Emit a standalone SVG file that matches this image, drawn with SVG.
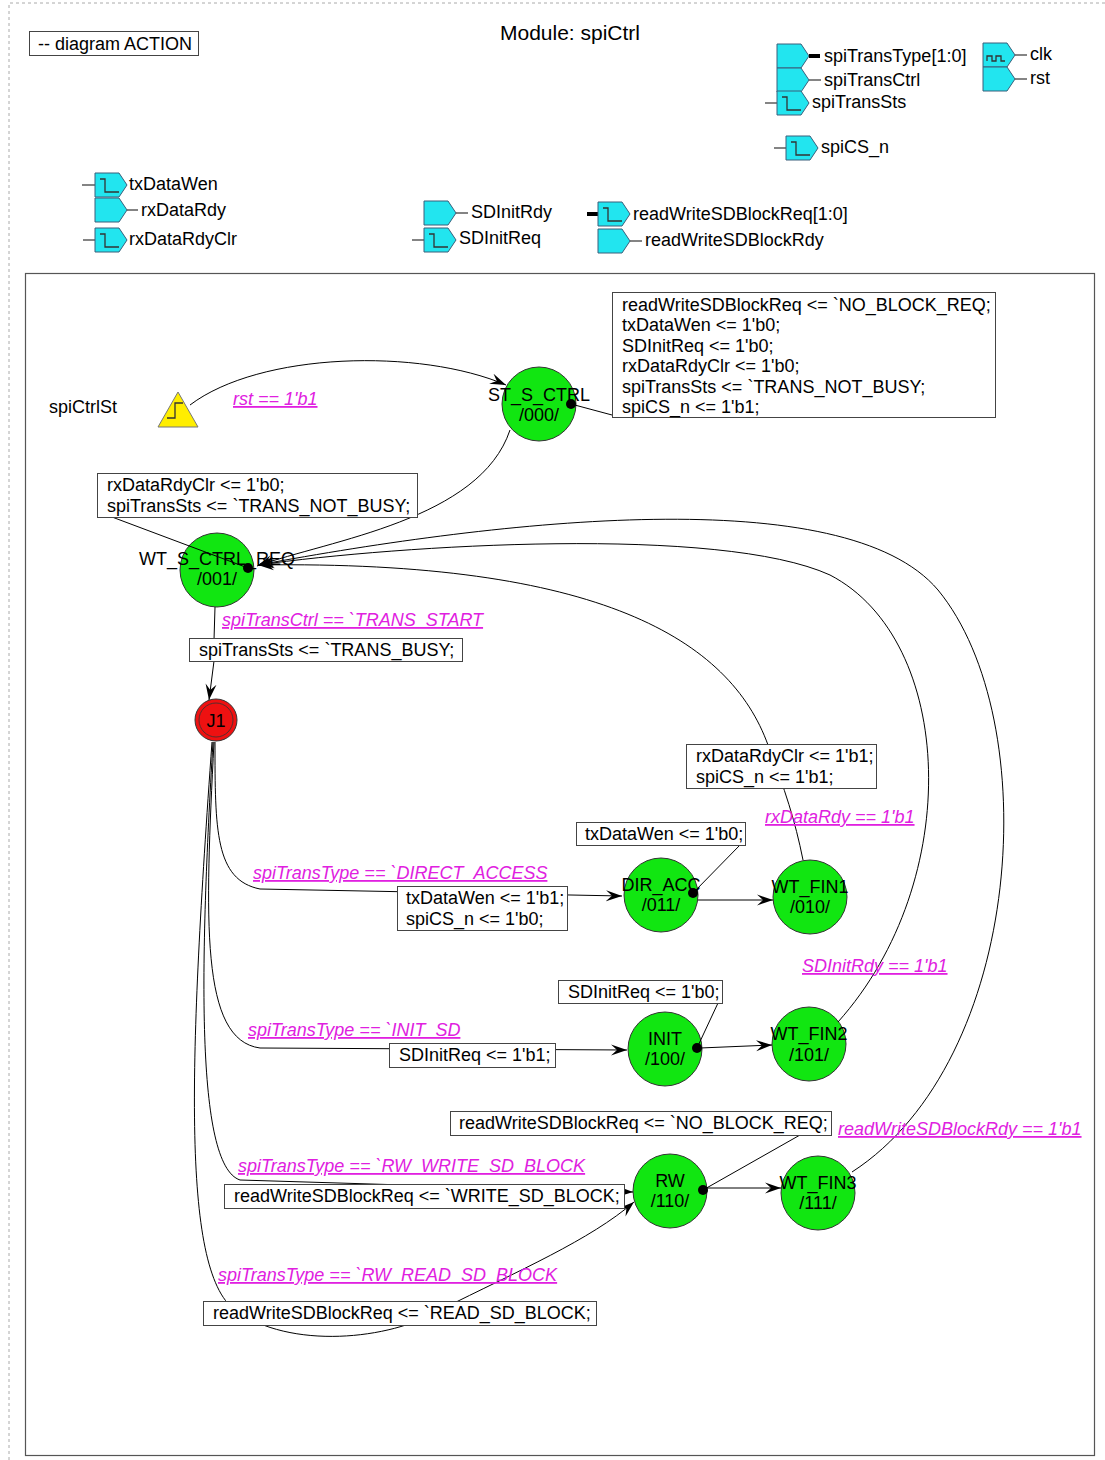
<svg xmlns="http://www.w3.org/2000/svg" width="1105" height="1460" viewBox="0 0 1105 1460">
<style>
text{font-family:"Liberation Sans",Arial,sans-serif;font-size:18px;fill:#000}
.title{font-size:21px}
.cond{fill:#e020e0;font-style:italic;text-decoration:underline}
.box{fill:#fff;stroke:#444;stroke-width:1}
.port{fill:#22e5ef;stroke:#3a5f7a;stroke-width:1}
.glyph{fill:none;stroke:#333;stroke-width:1.3}
.wire{stroke:#333;stroke-width:1.2}
.bus{stroke:#000;stroke-width:4}
.state{fill:#11e611;stroke:#333;stroke-width:1}
.st{text-anchor:middle}
.conn{fill:none;stroke:#000;stroke-width:1}
</style>
<defs>
<path id="pent" class="port" d="M0,0 H24 L32,12 L24,24 H0 Z"/>
<path id="step" class="glyph" d="M5,6 H10 V19 H24"/>
<marker id="arr" markerUnits="userSpaceOnUse" markerWidth="18" markerHeight="12" refX="16" refY="6" orient="auto">
<path d="M0,0.5 L16,6 L0,11.5 L6,6 Z" fill="#000"/>
</marker>
</defs>
<rect width="1105" height="1460" fill="#fff"/>
<path d="M9,1460 V3 H1105" fill="none" stroke="#aaa" stroke-dasharray="3,3"/>
<rect x="25.5" y="273.5" width="1069" height="1182" fill="none" stroke="#555" stroke-width="1.2"/>

<g id="title"><text x="570" y="40" text-anchor="middle" class="title">Module: spiCtrl</text></g>
<g id="diagram-action"><rect x="29.5" y="31.5" width="169" height="24" class="box"/><text x="38" y="50">-- diagram ACTION</text></g>

<!-- ports -->
<g id="port-spiTransType"><use href="#pent" x="777" y="44"/><line x1="809" y1="56" x2="820" y2="56" class="bus"/><text x="824" y="62">spiTransType[1:0]</text></g>
<g id="port-spiTransCtrl"><use href="#pent" x="777" y="68"/><line x1="809" y1="80" x2="821" y2="80" class="wire"/><text x="824" y="86">spiTransCtrl</text></g>
<g id="port-spiTransSts"><line x1="765" y1="103" x2="777" y2="103" class="wire"/><use href="#pent" x="777" y="91"/><use href="#step" x="777" y="91"/><text x="812" y="108">spiTransSts</text></g>
<g id="port-spiCS_n"><line x1="774" y1="148" x2="786" y2="148" class="wire"/><use href="#pent" x="786" y="136"/><use href="#step" x="786" y="136"/><text x="821" y="153">spiCS_n</text></g>
<g id="port-clk"><use href="#pent" x="983" y="43"/><path d="M987,61 V56 H992 V61 H996 V56 H1001 V61 H1005" class="glyph"/><line x1="1015" y1="55" x2="1027" y2="55" class="wire"/><text x="1030" y="60">clk</text></g>
<g id="port-rst"><use href="#pent" x="983" y="67"/><line x1="1015" y1="79" x2="1027" y2="79" class="wire"/><text x="1030" y="84">rst</text></g>
<g id="port-txDataWen"><line x1="82" y1="185" x2="95" y2="185" class="wire"/><use href="#pent" x="95" y="173"/><use href="#step" x="95" y="173"/><text x="129" y="190">txDataWen</text></g>
<g id="port-rxDataRdy"><use href="#pent" x="95" y="198"/><line x1="127" y1="210" x2="138" y2="210" class="wire"/><text x="141" y="216">rxDataRdy</text></g>
<g id="port-rxDataRdyClr"><line x1="83" y1="240" x2="95" y2="240" class="wire"/><use href="#pent" x="95" y="228"/><use href="#step" x="95" y="228"/><text x="129" y="245">rxDataRdyClr</text></g>
<g id="port-SDInitRdy"><use href="#pent" x="424" y="201"/><line x1="456" y1="213" x2="468" y2="213" class="wire"/><text x="471" y="218">SDInitRdy</text></g>
<g id="port-SDInitReq"><line x1="412" y1="240" x2="424" y2="240" class="wire"/><use href="#pent" x="424" y="228"/><use href="#step" x="424" y="228"/><text x="459" y="244">SDInitReq</text></g>
<g id="port-readWriteSDBlockReq"><line x1="587" y1="214" x2="598" y2="214" class="bus"/><use href="#pent" x="598" y="202"/><use href="#step" x="598" y="202"/><text x="633" y="220">readWriteSDBlockReq[1:0]</text></g>
<g id="port-readWriteSDBlockRdy"><use href="#pent" x="598" y="229"/><line x1="630" y1="241" x2="642" y2="241" class="wire"/><text x="645" y="246">readWriteSDBlockRdy</text></g>

<!-- start -->
<g id="start-spiCtrlSt"><text x="49" y="413">spiCtrlSt</text><path d="M178,392 L198,427 L158,427 Z" fill="#ffee00" stroke="#777"/><path d="M167,418 H175 V403 H183" class="glyph" stroke="#222"/></g>

<!-- states -->
<g id="state-ST_S_CTRL"><circle cx="539" cy="404" r="37" class="state"/><text x="539" y="401" class="st">ST_S_CTRL</text><text x="539" y="421" class="st">/000/</text><circle cx="571" cy="404" r="5"/></g>
<g id="state-WT_S_CTRL_REQ"><circle cx="217" cy="570" r="37" class="state"/><text x="217" y="565" class="st">WT_S_CTRL_REQ</text><text x="217" y="585" class="st">/001/</text><circle cx="248" cy="568" r="5"/></g>
<g id="state-J1"><circle cx="216" cy="720" r="21" fill="#ee1111" stroke="#333"/><circle cx="216" cy="720" r="17" fill="none" stroke="#333" stroke-width="0.8"/><text x="216" y="727" class="st">J1</text></g>
<g id="state-DIR_ACC"><circle cx="661" cy="895" r="37" class="state"/><text x="661" y="891" class="st">DIR_ACC</text><text x="661" y="911" class="st">/011/</text><circle cx="693" cy="893" r="5"/></g>
<g id="state-WT_FIN1"><circle cx="810" cy="897" r="37" class="state"/><text x="810" y="893" class="st">WT_FIN1</text><text x="810" y="913" class="st">/010/</text></g>
<g id="state-INIT"><circle cx="665" cy="1049" r="37" class="state"/><text x="665" y="1045" class="st">INIT</text><text x="665" y="1065" class="st">/100/</text><circle cx="697" cy="1048" r="5"/></g>
<g id="state-WT_FIN2"><circle cx="809" cy="1044" r="37" class="state"/><text x="809" y="1040" class="st">WT_FIN2</text><text x="809" y="1061" class="st">/101/</text></g>
<g id="state-RW"><circle cx="670" cy="1191" r="37" class="state"/><text x="670" y="1187" class="st">RW</text><text x="670" y="1207" class="st">/110/</text><circle cx="703" cy="1190" r="5"/></g>
<g id="state-WT_FIN3"><circle cx="818" cy="1193" r="37" class="state"/><text x="818" y="1189" class="st">WT_FIN3</text><text x="818" y="1209" class="st">/111/</text></g>

<!-- connectors -->
<g id="connectors" class="conn">
<path d="M190,405 C260,352 420,348 506,385" marker-end="url(#arr)"/>
<path d="M571,404 L612,415"/>
<path d="M510,430 C480,520 330,540 257,566" marker-end="url(#arr)"/>
<path d="M112,517 L248,568"/>
<path d="M803,860 C795,820 785,790 768,745 C730,640 600,560 258,565" marker-end="url(#arr)"/>
<path d="M838,1022 C965,880 955,640 830,575 C720,525 400,545 258,565" marker-end="url(#arr)"/>
<path d="M852,1172 C1025,1060 1045,720 938,590 C845,480 500,520 258,565" marker-end="url(#arr)"/>
<path d="M215,607 L214,640 M214,661 L209,700" marker-end="url(#arr)"/>
<path d="M215,742 C215,830 215,880 260,889 L622,896" marker-end="url(#arr)"/>
<path d="M214,742 C205,920 200,1040 260,1048 L627,1050" marker-end="url(#arr)"/>
<path d="M213,742 C200,960 195,1165 240,1180 L633,1192" marker-end="url(#arr)"/>
<path d="M212,742 C190,1050 180,1270 235,1310 C290,1350 390,1340 440,1310 C520,1270 590,1240 634,1202" marker-end="url(#arr)"/>
<path d="M693,893 L740,845"/>
<path d="M698,900 L773,900" marker-end="url(#arr)"/>
<path d="M697,1048 L718,1003"/>
<path d="M700,1048 L772,1045" marker-end="url(#arr)"/>
<path d="M703,1190 L800,1135"/>
<path d="M705,1188 L781,1188" marker-end="url(#arr)"/>
</g>

<!-- conditions -->
<g id="cond-rst"><text x="233" y="405" class="cond">rst == 1'b1</text></g>
<g id="cond-trans-start"><text x="222" y="626" class="cond">spiTransCtrl == `TRANS_START</text></g>
<g id="cond-direct"><text x="253" y="879" class="cond">spiTransType == `DIRECT_ACCESS</text></g>
<g id="cond-init"><text x="248" y="1036" class="cond">spiTransType == `INIT_SD</text></g>
<g id="cond-write"><text x="238" y="1172" class="cond">spiTransType == `RW_WRITE_SD_BLOCK</text></g>
<g id="cond-read"><text x="218" y="1281" class="cond">spiTransType == `RW_READ_SD_BLOCK</text></g>
<g id="cond-rxDataRdy"><text x="765" y="823" class="cond">rxDataRdy == 1'b1</text></g>
<g id="cond-SDInitRdy"><text x="802" y="972" class="cond">SDInitRdy == 1'b1</text></g>
<g id="cond-rwRdy"><text x="838" y="1135" class="cond">readWriteSDBlockRdy == 1'b1</text></g>

<!-- action boxes -->
<g id="act-st-s-ctrl"><rect x="612.5" y="292.5" width="383" height="125" class="box"/>
<text x="622" y="311">readWriteSDBlockReq &lt;= `NO_BLOCK_REQ;</text>
<text x="622" y="331">txDataWen &lt;= 1'b0;</text>
<text x="622" y="352">SDInitReq &lt;= 1'b0;</text>
<text x="622" y="372">rxDataRdyClr &lt;= 1'b0;</text>
<text x="622" y="393">spiTransSts &lt;= `TRANS_NOT_BUSY;</text>
<text x="622" y="413">spiCS_n &lt;= 1'b1;</text></g>
<g id="act-wt-req"><rect x="97.5" y="473.5" width="320" height="44" class="box"/>
<text x="107" y="491">rxDataRdyClr &lt;= 1'b0;</text>
<text x="107" y="512">spiTransSts &lt;= `TRANS_NOT_BUSY;</text></g>
<g id="act-busy"><rect x="189.5" y="638.5" width="273" height="23" class="box"/><text x="199" y="656">spiTransSts &lt;= `TRANS_BUSY;</text></g>
<g id="act-fin1"><rect x="686.5" y="744.5" width="190" height="44" class="box"/>
<text x="696" y="762">rxDataRdyClr &lt;= 1'b1;</text>
<text x="696" y="783">spiCS_n &lt;= 1'b1;</text></g>
<g id="act-dir-exit"><rect x="576.5" y="822.5" width="169" height="23" class="box"/><text x="585" y="840">txDataWen &lt;= 1'b0;</text></g>
<g id="act-direct"><rect x="397.5" y="886.5" width="170" height="44" class="box"/>
<text x="406" y="904">txDataWen &lt;= 1'b1;</text>
<text x="406" y="925">spiCS_n &lt;= 1'b0;</text></g>
<g id="act-init-exit"><rect x="558.5" y="980.5" width="164" height="23" class="box"/><text x="568" y="998">SDInitReq &lt;= 1'b0;</text></g>
<g id="act-init"><rect x="389.5" y="1043.5" width="166" height="24" class="box"/><text x="399" y="1061">SDInitReq &lt;= 1'b1;</text></g>
<g id="act-rw-exit"><rect x="450.5" y="1111.5" width="381" height="24" class="box"/><text x="459" y="1129">readWriteSDBlockReq &lt;= `NO_BLOCK_REQ;</text></g>
<g id="act-write"><rect x="224.5" y="1184.5" width="400" height="24" class="box"/><text x="234" y="1202">readWriteSDBlockReq &lt;= `WRITE_SD_BLOCK;</text></g>
<g id="act-read"><rect x="203.5" y="1301.5" width="393" height="24" class="box"/><text x="213" y="1319">readWriteSDBlockReq &lt;= `READ_SD_BLOCK;</text></g>
</svg>
